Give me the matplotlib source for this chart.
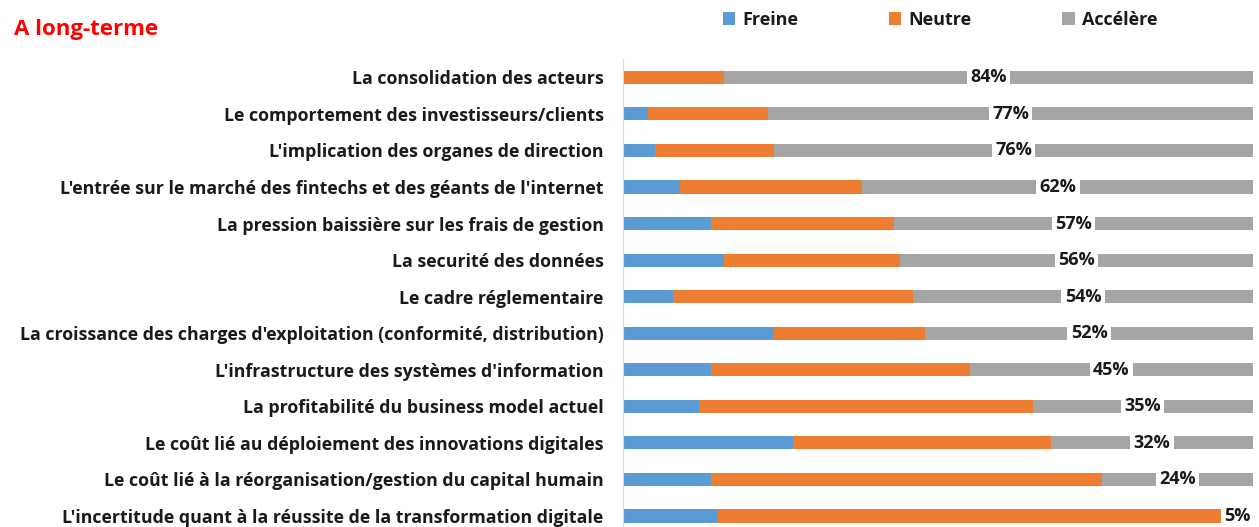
import matplotlib.pyplot as plt
import numpy as np

plt.rcParams['font.family'] = ['Open Sans', 'DejaVu Sans']

categories = [
    "La consolidation des acteurs",
    "Le comportement des investisseurs/clients",
    "L'implication des organes de direction",
    "L'entrée sur le marché des fintechs et des géants de l'internet",
    "La pression baissière sur les frais de gestion",
    "La securité des données",
    "Le cadre réglementaire",
    "La croissance des charges d'exploitation (conformité, distribution)",
    "L'infrastructure des systèmes d'information",
    "La profitabilité du business model actuel",
    "Le coût lié au déploiement des innovations digitales",
    "Le coût lié à la réorganisation/gestion du capital humain",
    "L'incertitude quant à la réussite de la transformation digitale",
]
freine = [0, 4, 5, 9, 14, 16, 8, 24, 14, 12, 27, 14, 15]
neutre = [16, 19, 19, 29, 29, 28, 38, 24, 41, 53, 41, 62, 80]
accelere = [84, 77, 76, 62, 57, 56, 54, 52, 45, 35, 32, 24, 5]

c_blue = '#5B9BD5'
c_orange = '#ED7D31'
c_gray = '#A5A5A5'

fig = plt.figure(figsize=(12.59, 5.27), dpi=100)
ax = fig.add_axes([623 / 1259, 0, 630 / 1259, 468 / 527])

y = np.arange(len(categories))
f = np.array(freine)
n = np.array(neutre)
a = np.array(accelere)
h = 0.36
ax.barh(y, f, height=h, color=c_blue, label='Freine')
ax.barh(y, n, left=f, height=h, color=c_orange, label='Neutre')
ax.barh(y, a, left=f + n, height=h, color=c_gray, label='Accélère')

# étiquettes % (Accélère) au centre du segment gris
for i in range(len(categories)):
    xc = f[i] + n[i] + a[i] / 2
    ax.text(xc, y[i], f"{a[i]}%", ha='center', va='center', fontsize=13,
            fontweight='bold', color='#1a1a1a',
            bbox=dict(facecolor='white', edgecolor='none', pad=2.5))

ax.set_xlim(0, 100)
ax.set_ylim(12.3, -0.5)
ax.set_yticks(y)
ax.set_yticklabels(categories, fontsize=12.8, fontweight='bold', color='#1a1a1a')
ax.tick_params(axis='y', length=0, pad=14)
ax.set_xticks([])
for s in ['top', 'right', 'bottom']:
    ax.spines[s].set_visible(False)
ax.spines['left'].set_color('#D9D9D9')

fig.text(14 / 1259, 1 - 30 / 527, "A long-terme", color='red', fontsize=16,
         fontweight='bold', va='center', ha='left')

leg = fig.legend(loc='center', bbox_to_anchor=(940 / 1259, 1 - 20 / 527), ncol=3,
                 frameon=False, fontsize=13, handlelength=0.7, handleheight=0.7,
                 columnspacing=5.0, handletextpad=0.4)
for t in leg.get_texts():
    t.set_fontweight('bold')
    t.set_color('#1a1a1a')

fig.savefig('out.png', dpi=100)
